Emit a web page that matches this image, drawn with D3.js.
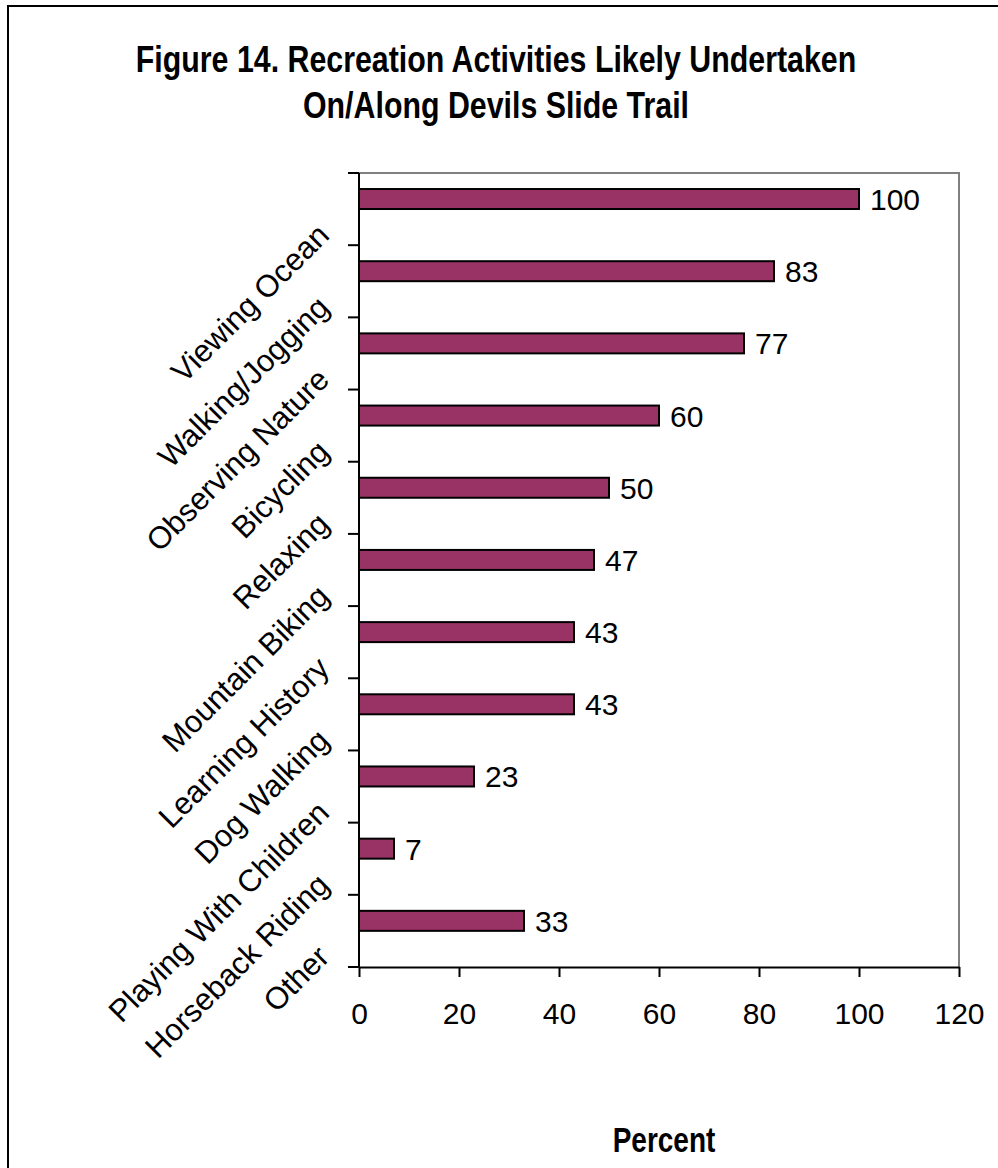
<!DOCTYPE html>
<html>
<head>
<meta charset="utf-8">
<script src="https://cdn.jsdelivr.net/npm/d3@7"></script>
<style>
  body { margin: 0; background: #fff; }
  svg { display: block; font-family: Arial, "Liberation Sans", sans-serif; }
</style>
</head>
<body>
<div id="chart"></div>
<script>
// chart data
var categories = ["Viewing Ocean", "Walking/Jogging", "Observing Nature", "Bicycling",
  "Relaxing", "Mountain Biking", "Learning History", "Dog Walking",
  "Playing With Children", "Horseback Riding", "Other"];
var values = [100, 83, 77, 60, 50, 47, 43, 43, 23, 7, 33];
var xTicks = [0, 20, 40, 60, 80, 100, 120];
var titleLines = ["Figure 14. Recreation Activities Likely Undertaken", "On/Along Devils Slide Trail"];
var axisTitle = "Percent";

var W = 998, H = 1168;
var plot = { left: 359, right: 959, top: 173, bottom: 967 };

var svg = d3.select("#chart").append("svg")
  .attr("width", W).attr("height", H);

// outer frame (only top/left edges fall inside the picture)
svg.append("rect")
  .attr("x", 8).attr("y", 6)
  .attr("width", W + 20).attr("height", H + 20)
  .attr("fill", "none").attr("stroke", "#000").attr("stroke-width", 2);

// title - narrow bold face, faked with a horizontal squeeze
svg.selectAll(".title")
  .data(titleLines)
  .enter().append("text")
  .attr("class", "title")
  .attr("text-anchor", "middle")
  .attr("font-weight", "bold")
  .attr("font-size", 37)
  .attr("transform", function(d, i) { return "translate(496," + (72 + i * 46) + ") scale(0.82,1)"; })
  .text(function(d) { return d; });

var x = d3.scaleLinear()
  .domain([0, 120])
  .range([plot.left, plot.right]);

var y = d3.scaleBand()
  .domain(categories)
  .range([plot.top, plot.bottom])
  .paddingInner(0).paddingOuter(0);

var bw = y.bandwidth();

// plot area border: grey top + right
svg.append("path")
  .attr("d", "M" + x(0) + "," + plot.top + "H" + x(120) + "V" + plot.bottom)
  .attr("fill", "none").attr("stroke", "#808080").attr("stroke-width", 2);

// bars
svg.selectAll(".bar")
  .data(values)
  .enter().append("rect")
  .attr("class", "bar")
  .attr("x", x(0))
  .attr("y", function(d, i) { return y(categories[i]) + bw * 0.222; })
  .attr("width", function(d) { return x(d) - x(0); })
  .attr("height", bw * 0.277)
  .attr("fill", "#993366")
  .attr("stroke", "#000")
  .attr("stroke-width", 2);

// value labels
svg.selectAll(".vlabel")
  .data(values)
  .enter().append("text")
  .attr("class", "vlabel")
  .attr("x", function(d) { return x(d) + 11; })
  .attr("y", function(d, i) { return y(categories[i]) + bw * 0.36 + 11; })
  .attr("font-size", 30)
  .text(function(d) { return d; });

// x axis
var xAxis = svg.append("g")
  .attr("transform", "translate(0," + plot.bottom + ")")
  .call(d3.axisBottom(x).tickValues(xTicks).tickSize(10).tickSizeOuter(0).tickPadding(26));
xAxis.select(".domain").attr("stroke", "#000").attr("stroke-width", 2);
xAxis.selectAll(".tick line").attr("stroke", "#000").attr("stroke-width", 2);
xAxis.selectAll(".tick text")
  .attr("font-size", 30).attr("font-family", "Arial, 'Liberation Sans', sans-serif")
  .attr("fill", "#000");

// y axis line and boundary ticks
var yAxis = svg.append("g");
yAxis.append("line")
  .attr("x1", x(0)).attr("x2", x(0))
  .attr("y1", plot.top).attr("y2", plot.bottom)
  .attr("stroke", "#000").attr("stroke-width", 2);
yAxis.selectAll(".ytick")
  .data(categories.map(function(c) { return y(c); }).concat([y.range()[1]]))
  .enter().append("line")
  .attr("class", "ytick")
  .attr("x1", x(0) - 11).attr("x2", x(0))
  .attr("y1", function(d) { return d; }).attr("y2", function(d) { return d; })
  .attr("stroke", "#000").attr("stroke-width", 2);

// rotated category labels
yAxis.selectAll(".clabel")
  .data(categories)
  .enter().append("text")
  .attr("class", "clabel")
  .attr("text-anchor", "end")
  .attr("font-size", 31)
  .attr("transform", function(c) {
    return "translate(" + (x(0) - 28) + "," + (y(c) + bw / 2 + 28) + ") rotate(-45)";
  })
  .text(function(c) { return c; });

// axis title
svg.append("text")
  .attr("text-anchor", "middle")
  .attr("font-weight", "bold")
  .attr("font-size", 35)
  .attr("transform", "translate(" + ((x(0) + x(120)) / 2 + 5) + ",1152) scale(0.8,1)")
  .text(axisTitle);
</script>
</body>
</html>
